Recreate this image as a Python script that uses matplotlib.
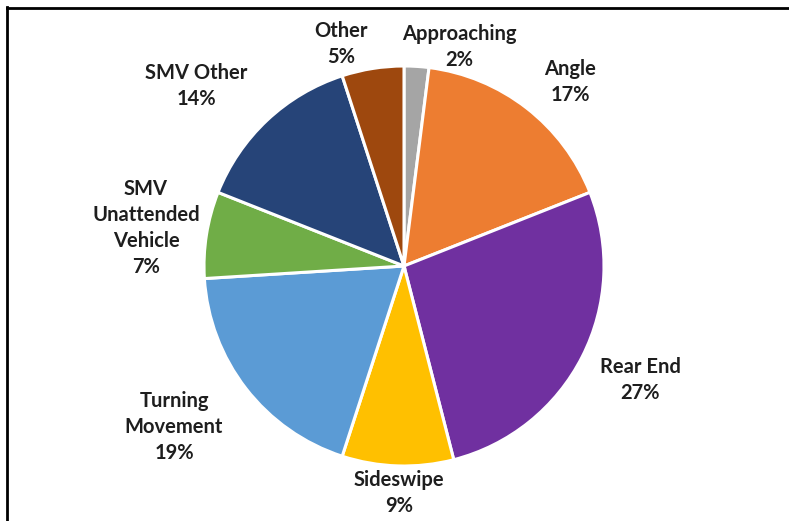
import matplotlib
matplotlib.use("Agg")
import matplotlib.pyplot as plt
from matplotlib.lines import Line2D

categories = ["Approaching", "Angle", "Rear End", "Sideswipe", "Turning\nMovement",
              "SMV\nUnattended\nVehicle", "SMV Other", "Other"]
shares = [2, 17, 27, 9, 19, 7, 14, 5]
colors = ["#A5A5A5", "#ED7D31", "#7030A0", "#FFC000", "#5B9BD5",
          "#70AD47", "#264478", "#9E480E"]

# label centres in pie-radius units, outside end of each wedge
label_xy = [(0.275, 1.095), (0.83, 0.92), (1.18, -0.57), (-0.025, -1.135),
            (-1.15, -0.805), (-1.29, 0.19), (-1.04, 0.90), (-0.315, 1.11)]

W, H = 789, 521
fig = plt.figure(figsize=(W / 100, H / 100), dpi=100)
fig.patch.set_facecolor("white")

cx, cy, r = 404, 266, 200
ax = fig.add_axes([(cx - r) / W, (H - cy - r) / H, 2 * r / W, 2 * r / H])
ax.pie(shares, colors=colors, startangle=90, counterclock=False, radius=1,
       wedgeprops=dict(edgecolor="white", linewidth=2.2))
ax.set_xlim(-1, 1)
ax.set_ylim(-1, 1)
ax.set_aspect("auto")
ax.axis("off")

for name, val, (lx, ly) in zip(categories, shares, label_xy):
    ax.text(lx, ly, f"{name}\n{val}%", ha="center", va="center",
            fontsize=14.5, fontweight="bold", family="Lato", color="#1e1e1e",
            linespacing=1.36, clip_on=False)

# frame lines along the top and left edge
fig.add_artist(Line2D([7 / W, 1], [1 - 8 / H, 1 - 8 / H], color="#bbbbbb", lw=1.0))
fig.add_artist(Line2D([7 / W, 1], [1 - 7.5 / H, 1 - 7.5 / H], color="black", lw=2.0))
fig.add_artist(Line2D([7 / W, 7 / W], [0, 1 - 7 / H], color="black", lw=2.0))

fig.savefig("out.png", dpi=100)
